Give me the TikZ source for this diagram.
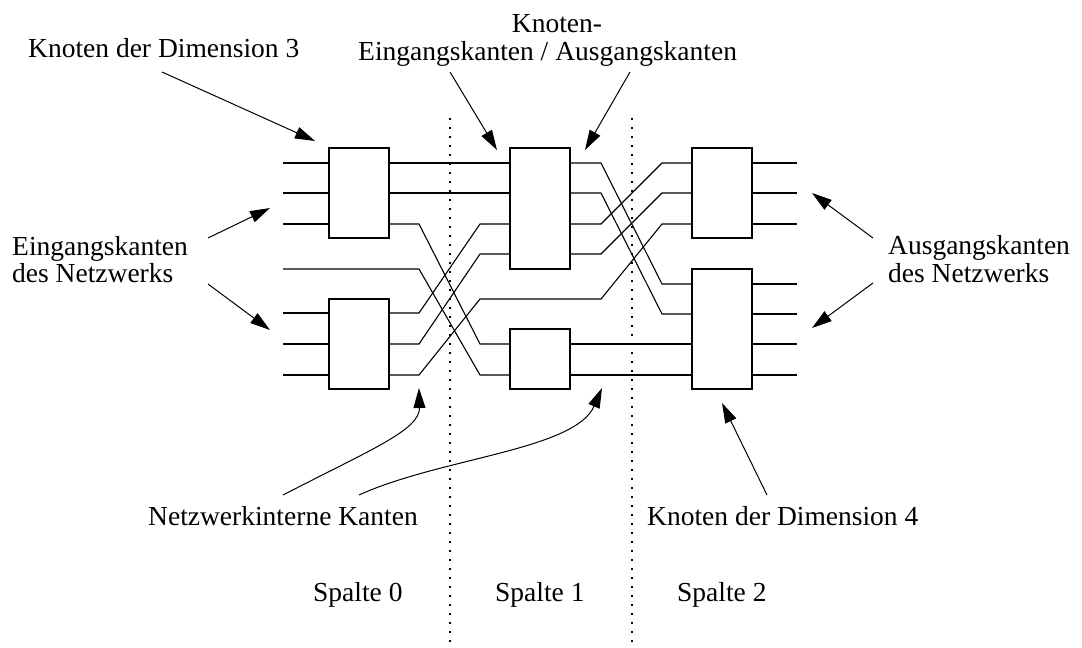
\documentclass[tikz,border=0pt]{standalone}
\usepackage{fontspec}
\setmainfont{Liberation Serif}
\usetikzlibrary{arrows.meta}
\begin{document}
\begin{tikzpicture}[x=1pt,y=-1pt,
  wire/.style={line width=1.1pt},
  nodebox/.style={draw,line width=1.1pt,minimum width=60pt,inner sep=0pt},
  lbl/.style={inner sep=0pt,font=\fontsize{27.5}{28}\selectfont},
  ptr/.style={line width=1pt,-{Triangle[length=20pt,width=12pt]}},
  colsep/.style={line width=1.5pt,dash pattern=on 2.2pt off 6.8pt}]
\useasboundingbox (0,0) rectangle (1082,648);

% boxes
\node[nodebox,minimum height=90pt]  (A) at (359,193) {};
\node[nodebox,minimum height=90pt]  (B) at (359,344) {};
\node[nodebox,minimum height=121pt] (C) at (540,208.5) {};
\node[nodebox,minimum height=60pt]  (D) at (540,359) {};
\node[nodebox,minimum height=90pt]  (E) at (722,193) {};
\node[nodebox,minimum height=120pt] (F) at (722,329) {};

% reference coordinates
\foreach \y/\n in {163/1,193/2,224/3,269/4,313/5,344/6,375/7} \coordinate (in\n) at (283,\y);
\foreach \y/\n in {163/1,193/2,224/3,284/4,314/5,344/6,375/7} \coordinate (out\n) at (797,\y);
\coordinate (rA) at (0,254);
\coordinate (rB) at (0,299);
\coordinate (c0) at (419,0);
\coordinate (c1) at (480,0);
\coordinate (c2) at (601,0);
\coordinate (c3) at (662,0);

% network inputs
\foreach \n in {1,2,3} \draw[wire] (in\n) -- (in\n -| A.west);
\foreach \n in {5,6,7} \draw[wire] (in\n) -- (in\n -| B.west);
\draw[wire] (in4) -- (c0 |- in4) -- (c1 |- in7) -- (D.west |- in7);

% column 0 -> column 1
\draw[wire] (A.east |- in1) -- (C.west |- in1);
\draw[wire] (A.east |- in2) -- (C.west |- in2);
\draw[wire] (A.east |- in3) -- (c0 |- in3) -- (c1 |- in6) -- (D.west |- in6);
\draw[wire] (B.east |- in5) -- (c0 |- in5) -- (c1 |- in3) -- (C.west |- in3);
\draw[wire] (B.east |- in6) -- (c0 |- in6) -- (c1 |- rA) -- (C.west |- rA);
\draw[wire] (B.east |- in7) -- (c0 |- in7) -- (c1 |- rB) -- (c2 |- rB) -- (c3 |- in3) -- (E.west |- in3);

% column 1 -> column 2
\draw[wire] (C.east |- in1) -- (c2 |- in1) -- (c3 |- out4) -- (F.west |- out4);
\draw[wire] (C.east |- in2) -- (c2 |- in2) -- (c3 |- out5) -- (F.west |- out5);
\draw[wire] (C.east |- in3) -- (c2 |- in3) -- (c3 |- in1) -- (E.west |- in1);
\draw[wire] (C.east |- rA) -- (c2 |- rA) -- (c3 |- in2) -- (E.west |- in2);
\draw[wire] (D.east |- in6) -- (F.west |- in6);
\draw[wire] (D.east |- in7) -- (F.west |- in7);

% network outputs
\foreach \n in {1,2,3} \draw[wire] (E.east |- out\n) -- (out\n);
\foreach \n in {4,5,6,7} \draw[wire] (F.east |- out\n) -- (out\n);

% column separators
\coordinate (s1t) at (450,118); \coordinate (s1b) at (450,648);
\coordinate (s2t) at (632,118); \coordinate (s2b) at (632,648);
\draw[colsep] (s1t) -- (s1b);
\draw[colsep] (s2t) -- (s2b);

% labels
\node[lbl,anchor=base west] (tD3) at (28,57) {Knoten der Dimension 3};
\node[lbl,anchor=base] (tK1) at (557,32) {Knoten-};
\node[lbl,anchor=base west] (tK2) at (358,60) {Eingangskanten / Ausgangskanten};
\node[lbl,anchor=base west] (tE1) at (12,255) {Eingangskanten};
\node[lbl,anchor=base west] (tE2) at (12,282) {des Netzwerks};
\node[lbl,anchor=base west] (tA1) at (888,254) {Ausgangskanten};
\node[lbl,anchor=base west] (tA2) at (888,282) {des Netzwerks};
\node[lbl,anchor=base west] (tN) at (148,525) {Netzwerkinterne Kanten};
\node[lbl,anchor=base west] (tD4) at (647,525) {Knoten der Dimension 4};
\node[lbl,anchor=base west] (sp0) at (313,601) {Spalte 0};
\node[lbl,anchor=base west] (sp1) at (495,601) {Spalte 1};
\node[lbl,anchor=base west] (sp2) at (677,601) {Spalte 2};

% pointer arrows
\coordinate (a1s) at (162,72);  \coordinate (a1e) at (315,141);
\coordinate (a2s) at (450,72);  \coordinate (a2e) at (497,150);
\coordinate (a3s) at (630,72);  \coordinate (a3e) at (585,150);
\coordinate (a4s) at (208,238); \coordinate (a4e) at (270,208);
\coordinate (a5s) at (208,284); \coordinate (a5e) at (270,330);
\coordinate (a6s) at (873,238); \coordinate (a6e) at (812,193);
\coordinate (a7s) at (873,283); \coordinate (a7e) at (812,328);
\coordinate (a8s) at (283,495); \coordinate (a8e) at (419,388);
\coordinate (a9s) at (359,495); \coordinate (a9e) at (602,388);
\coordinate (a10s) at (767,495); \coordinate (a10e) at (722,403);

\draw[ptr] (a1s) -- (a1e);
\draw[ptr] (a2s) -- (a2e);
\draw[ptr] (a3s) -- (a3e);
\draw[ptr] (a4s) -- (a4e);
\draw[ptr] (a5s) -- (a5e);
\draw[ptr] (a6s) -- (a6e);
\draw[ptr] (a7s) -- (a7e);
\draw[ptr] (a8s) .. controls (370,450) and (420,430) .. (a8e);
\draw[ptr] (a9s) .. controls (440,458) and (575,450) .. (a9e);
\draw[ptr] (a10s) -- (a10e);
\end{tikzpicture}
\end{document}
